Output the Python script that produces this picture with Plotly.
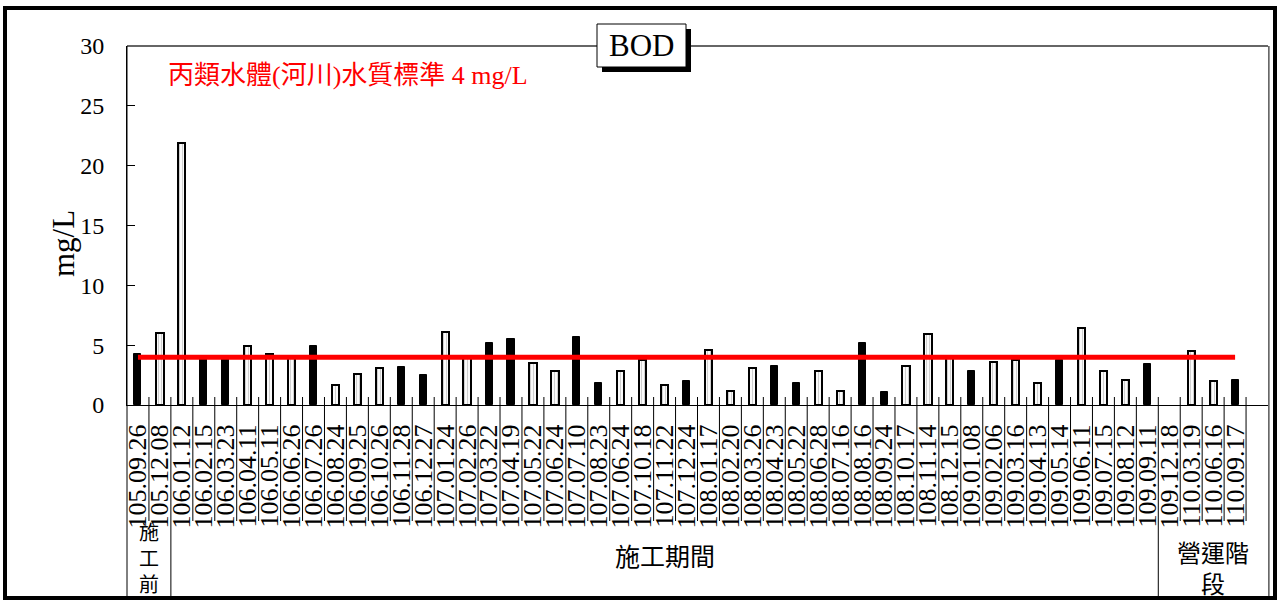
import plotly.graph_objects as go

# ---------------- data ----------------
dates = [
    "105.09.26", "105.12.08", "106.01.12", "106.02.15", "106.03.23", "106.04.11",
    "106.05.11", "106.06.26", "106.07.26", "106.08.24", "106.09.25", "106.10.26",
    "106.11.28", "106.12.27", "107.01.24", "107.02.26", "107.03.22", "107.04.19",
    "107.05.22", "107.06.24", "107.07.10", "107.08.23", "107.06.24", "107.10.18",
    "107.11.22", "107.12.24", "108.01.17", "108.02.20", "108.03.26", "108.04.23",
    "108.05.22", "108.06.28", "108.07.16", "108.08.16", "108.09.24", "108.10.17",
    "108.11.14", "108.12.15", "109.01.08", "109.02.06", "109.03.16", "109.04.13",
    "109.05.14", "109.06.11", "109.07.15", "109.08.12", "109.09.11", "109.12.18",
    "110.03.19", "110.06.16", "110.09.17", "",
]

# BOD (mg/L), solid-bar series and hatched-bar series (None = no bar)
bod_solid = [
    4.3, None, None, 4.0, 4.0, None,
    None, None, 4.9, None, None, None,
    3.2, 2.5, None, None, 5.2, 5.5,
    None, None, 5.7, 1.8, None, None,
    None, 2.0, None, None, None, 3.3,
    1.8, None, None, 5.2, 1.1, None,
    None, None, 2.8, None, None, None,
    3.8, None, None, None, 3.4, None,
    None, None, 2.1, None,
]
bod_hatched = [
    None, 6.0, 21.9, None, None, 4.9,
    4.3, 4.0, None, 1.7, 2.6, 3.1,
    None, None, 6.1, 4.0, None, None,
    3.5, 2.8, None, None, 2.8, 3.8,
    1.7, None, 4.6, 1.2, 3.1, None,
    None, 2.8, 1.2, None, None, 3.3,
    5.9, 4.0, None, 3.6, 3.8, 1.8,
    None, 6.4, 2.8, 2.1, None, None,
    4.5, 2.0, None, None,
]
standard_value = 4
standard_label = "丙類水體(河川)水質標準 4 mg/L"
n_standard = 51  # categories covered by the standard line
y_title = "mg/L"
chart_title = "BOD"

groups = [("施<br>工<br>前", 0, 2), ("施工期間", 2, 47), ("營運階<br>段", 47, 52)]

# ---------------- figure ----------------
W, H = 1280, 604
ML, MR, MT, MB = 127, 12, 46, 199
PW, PH = W - ML - MR, H - MT - MB


def px_x(px):
    return (px - ML) / PW


def px_y(py):
    return (H - MB - py) / PH


n = len(dates)
xc = [i + 0.5 for i in range(n)]
serif = "Liberation Serif, Times New Roman, serif"
cjk = "Liberation Serif, Noto Sans CJK TC, serif"

fig = go.Figure()
fig.add_trace(go.Bar(
    x=xc, y=bod_solid, width=0.32,
    marker=dict(color="black", line=dict(color="black", width=1)),
    showlegend=False, hoverinfo="x+y",
))
fig.add_trace(go.Bar(
    x=xc, y=bod_hatched, width=0.33,
    marker=dict(color="white", line=dict(color="black", width=2),
                pattern=dict(shape="|", fgcolor="#a0a0a0", bgcolor="white",
                             size=3, solidity=0.4)),
    showlegend=False, hoverinfo="x+y",
))
fig.add_trace(go.Scatter(
    x=xc[:n_standard], y=[standard_value] * n_standard, mode="lines",
    line=dict(color="#ff0000", width=5), showlegend=False, hoverinfo="skip",
))

shapes = []
# outer frame
shapes.append(dict(type="rect", xref="paper", yref="paper",
                   x0=px_x(5), x1=px_x(1275), y0=px_y(598), y1=px_y(8),
                   line=dict(color="black", width=4), layer="above"))
# plot border lines (top, left extension, right)
shapes.append(dict(type="line", xref="paper", yref="paper", x0=0, x1=1, y0=1, y1=1,
                   line=dict(color="#333", width=1.5)))
shapes.append(dict(type="line", xref="paper", yref="paper", x0=0, x1=0,
                   y0=px_y(598), y1=1, line=dict(color="black", width=1)))
shapes.append(dict(type="line", xref="paper", yref="paper", x0=1.0008, x1=1.0008,
                   y0=px_y(598), y1=1, line=dict(color="black", width=1)))
# category separators
group_bounds = {g[1] for g in groups} | {g[2] for g in groups}
for k in range(1, n):
    bottom = px_y(598) if k in group_bounds else px_y(521)
    shapes.append(dict(type="line", xref="x", yref="paper", x0=k, x1=k,
                       y0=bottom, y1=px_y(397), line=dict(color="black", width=1)))
# title box with shadow
shapes.append(dict(type="rect", xref="paper", yref="paper",
                   x0=px_x(602), x1=px_x(691), y0=px_y(72), y1=px_y(29),
                   fillcolor="black", line=dict(color="black", width=0), layer="above"))
shapes.append(dict(type="rect", xref="paper", yref="paper",
                   x0=px_x(597), x1=px_x(686), y0=px_y(67), y1=px_y(24),
                   fillcolor="white", line=dict(color="black", width=1), layer="above"))

annotations = [
    dict(text=chart_title, xref="paper", yref="paper", x=px_x(641.5), y=px_y(45.5),
         showarrow=False, font=dict(family=serif, size=31, color="black"),
         xanchor="center", yanchor="middle"),
    dict(text=standard_label, xref="paper", yref="paper", x=px_x(166), y=px_y(75),
         showarrow=False, font=dict(family=cjk, size=26, color="#ff0000"),
         xanchor="left", yanchor="middle"),
    dict(text=y_title, xref="paper", yref="paper", x=px_x(63), y=px_y(244),
         showarrow=False, textangle=-90,
         font=dict(family=serif, size=31, color="black"),
         xanchor="center", yanchor="middle"),
]
group_y = {0: px_y(559), 1: px_y(557), 2: px_y(569)}
group_size = {0: 20, 1: 25, 2: 24}
for gi, (label, a, b) in enumerate(groups):
    annotations.append(dict(text=label, xref="x", yref="paper", x=(a + b) / 2,
                            y=group_y[gi], showarrow=False,
                            font=dict(family=cjk, size=group_size[gi], color="black"),
                            xanchor="center", yanchor="middle"))

fig.update_layout(
    width=W, height=H,
    margin=dict(l=ML, r=MR, t=MT, b=MB, pad=0),
    paper_bgcolor="white", plot_bgcolor="white",
    barmode="overlay", bargap=0,
    shapes=shapes, annotations=annotations,
    xaxis=dict(range=[0, n], tickmode="array", tickvals=xc, ticktext=dates,
               tickangle=-90, ticks="", showline=True, linecolor="black", linewidth=1,
               showgrid=False, zeroline=False, ticklabelstandoff=8,
               tickfont=dict(family=serif, size=26, color="black")),
    yaxis=dict(range=[0, 30], dtick=5, ticks="inside", ticklen=8, tickcolor="black",
               showline=True, linecolor="black", linewidth=1, showgrid=False,
               zeroline=False, ticklabelstandoff=17,
               tickfont=dict(family=serif, size=24, color="black")),
)

fig.write_html(
    "out.html",
    config={"displayModeBar": False},
    post_script="document.body.style.margin='0';document.body.style.overflow='hidden';",
)
